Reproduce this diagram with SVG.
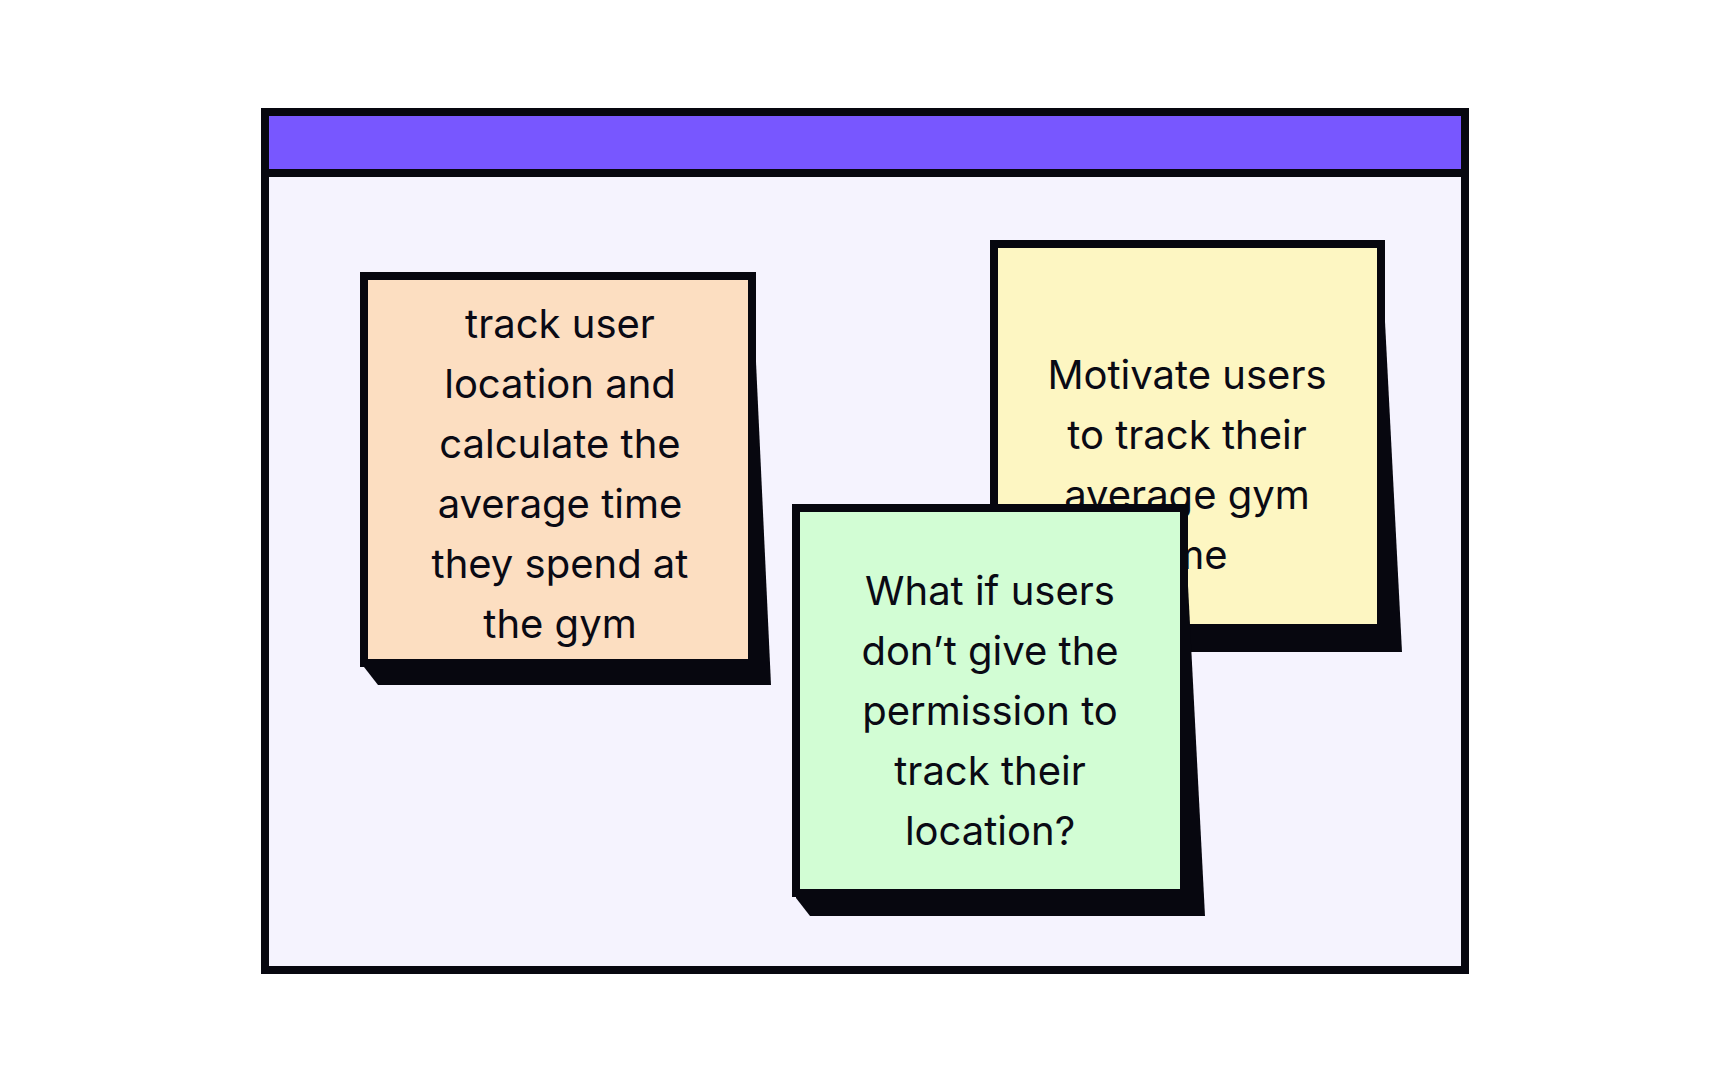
<svg xmlns="http://www.w3.org/2000/svg" width="1728" height="1080" viewBox="0 0 1728 1080">
<style>
.t{font-family:Inter,"Noto Sans",sans-serif;font-size:40px;fill:#0a0a14;text-anchor:middle}
.sh{fill:#07070f}
.n{stroke:#07070f;stroke-width:8}
</style>
<rect width="1728" height="1080" fill="#fff"/>
<g id="frame">
<rect x="265" y="112" width="1200" height="858" fill="#f5f3fe" class="n"/>
<rect x="265" y="112" width="1200" height="61" fill="#7857ff" class="n"/>
</g>
<g id="note1">
<polygon class="sh" points="752,276 771,685 378,685 364,667 364,276"/>
<rect x="364" y="276" width="388" height="387" fill="#fcdec1" class="n"/>
<text class="t"><tspan x="560" y="338">track user</tspan><tspan x="560" y="398">location and</tspan><tspan x="560" y="458">calculate the</tspan><tspan x="560" y="518">average time</tspan><tspan x="560" y="578">they spend at</tspan><tspan x="560" y="638">the gym</tspan></text>
</g>
<g id="note2">
<polygon class="sh" points="1381,244 1402,652 1008,652 994,634 994,244"/>
<rect x="994" y="244" width="387" height="384" fill="#fdf6c2" class="n"/>
<text class="t"><tspan x="1187" y="389">Motivate users</tspan><tspan x="1187" y="449">to track their</tspan><tspan x="1187" y="509">average gym</tspan><tspan x="1187" y="569">time</tspan></text>
</g>
<g id="note3">
<polygon class="sh" points="1184,508 1205,916 810,916 796,898 796,508"/>
<rect x="796" y="508" width="388" height="385" fill="#d2fdd4" class="n"/>
<text class="t"><tspan x="990" y="605">What if users</tspan><tspan x="990" y="665">don’t give the</tspan><tspan x="990" y="725">permission to</tspan><tspan x="990" y="785">track their</tspan><tspan x="990" y="845">location?</tspan></text>
</g>
<g id="connectors"/>
</svg>
